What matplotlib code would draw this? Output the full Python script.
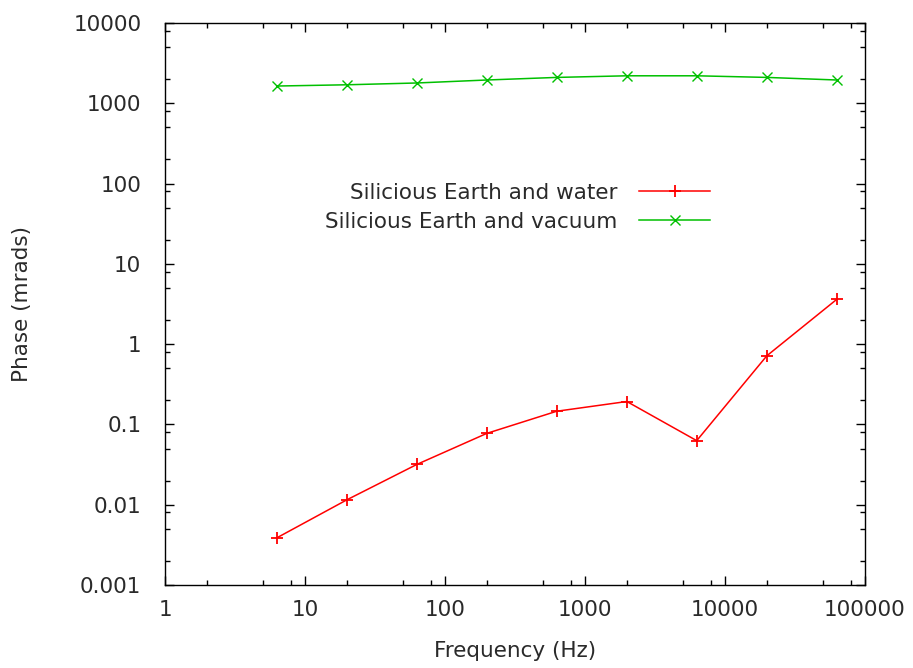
import numpy as np
import matplotlib
matplotlib.use("Agg")
import matplotlib.pyplot as plt
from matplotlib.ticker import FixedLocator, FuncFormatter, NullFormatter

# frequency points (Hz), half-decade steps starting at 2*pi
freq = [6.28, 19.9, 62.8, 199, 628, 1990, 6280, 19900, 62800]

# phase in mrads
phase_water = [0.00386, 0.0115, 0.0317, 0.0774, 0.146, 0.193, 0.0628, 0.716, 3.61]
phase_vacuum = [1640, 1700, 1790, 1950, 2100, 2200, 2200, 2100, 1950]

x_ticks = [1, 10, 100, 1000, 10000, 100000]
y_ticks = [0.001, 0.01, 0.1, 1, 10, 100, 1000, 10000]

plt.rcParams["font.family"] = "DejaVu Sans"
plt.rcParams["font.size"] = 15.5
txt = "#2a2a2a"

fig = plt.figure(figsize=(9.13, 6.68), dpi=100)
ax = fig.add_axes([165 / 913, 83 / 668, 700 / 913, 562 / 668])

ax.plot(freq, phase_water, color="#ff0000", lw=1.1, marker="+", ms=9, mew=1.3,
        label="Silicious Earth and water")
ax.plot(freq, phase_vacuum, color="#00c000", lw=1.1, marker="x", ms=7, mew=1.0,
        label="Silicious Earth and vacuum")

ax.set_xscale("log")
ax.set_yscale("log")
ax.set_xlim(1, 100000)
ax.set_ylim(0.001, 10000)

fmt = FuncFormatter(lambda v, pos: "%g" % v)
ax.xaxis.set_major_locator(FixedLocator(x_ticks))
ax.yaxis.set_major_locator(FixedLocator(y_ticks))
ax.xaxis.set_major_formatter(fmt)
ax.yaxis.set_major_formatter(fmt)

# minor ticks at 2, 5, 8 of each decade
minor_x = [m * d for d in x_ticks[:-1] for m in (2, 5, 8)]
minor_y = [m * d for d in y_ticks[:-1] for m in (2, 5, 8)]
ax.xaxis.set_minor_locator(FixedLocator(minor_x))
ax.yaxis.set_minor_locator(FixedLocator(minor_y))
ax.xaxis.set_minor_formatter(NullFormatter())
ax.yaxis.set_minor_formatter(NullFormatter())

ax.tick_params(which="both", direction="in", top=True, right=True,
               width=1, colors="black", labelcolor=txt)
ax.tick_params(which="major", length=6.5, labelsize=15.5)
ax.tick_params(axis="y", which="major", pad=17)
ax.tick_params(axis="x", which="major", pad=11)
ax.tick_params(which="minor", length=3.5)
for s in ax.spines.values():
    s.set_linewidth(1)

ax.set_xlabel("Frequency (Hz)", color=txt)
ax.set_ylabel("Phase (mrads)", color=txt)
ax.xaxis.set_label_coords(0.5, -(651 - 585) / 562)
ax.yaxis.set_label_coords(-(165 - 22) / 700, 0.5)
ax.xaxis.label.set_va("center")
ax.yaxis.label.set_va("center")

leg = ax.legend(loc="center right", bbox_to_anchor=(0.779, 0.672),
                markerfirst=False, frameon=False, handlelength=3.3,
                handletextpad=1.0, labelspacing=0.4, borderpad=0,
                borderaxespad=0, fontsize=15.5)
for t in leg.get_texts():
    t.set_color(txt)

fig.savefig("out.png", dpi=100)
